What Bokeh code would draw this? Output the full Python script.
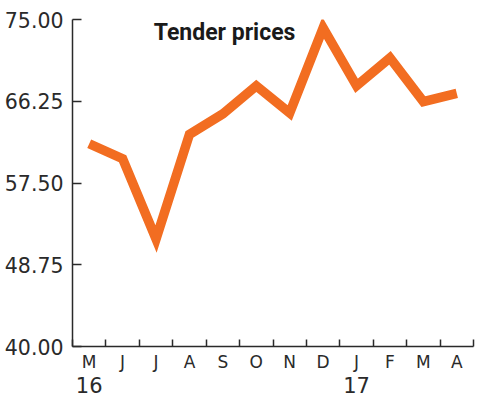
from bokeh.plotting import figure
from bokeh.models import FixedTicker, LinearAxis, Range1d, Label
from bokeh.embed import file_html
from bokeh.resources import INLINE

months = ["M", "J", "J", "A", "S", "O", "N", "D", "J", "F", "M", "A"]
years = {0: "16", 8: "17"}
prices = [61.7, 60.1, 51.5, 62.7, 64.9, 67.9, 65.0, 74.1, 67.9, 70.9, 66.2, 67.1]
y_ticks = [40.0, 48.75, 57.5, 66.25, 75.0]
title_text = "Tender prices"

ORANGE = "#F26D21"
DARK = "#2a2a2a"
NUM_FONT = "DejaVu Sans"

n = len(months)
xs = [i + 0.5 for i in range(n)]
bounds = list(range(n + 1))

p = figure(width=476, height=398, output_backend="svg", toolbar_location=None,
           x_range=Range1d(0, n), y_range=Range1d(y_ticks[0], y_ticks[-1]),
           min_border_left=72, min_border_right=3, min_border_top=19, min_border_bottom=52,
           x_axis_location=None)
p.outline_line_color = None
p.grid.grid_line_color = None
p.background_fill_color = "white"
p.border_fill_color = "white"

# y axis
ya = p.yaxis[0]
ya.ticker = FixedTicker(ticks=y_ticks)
ya.major_label_overrides = {t: f"{t:.2f}" for t in y_ticks}
ya.major_tick_in = 9
ya.major_tick_out = 0
ya.minor_tick_line_color = None
ya.major_label_standoff = 9
ya.major_label_text_font = NUM_FONT
ya.major_label_text_font_size = "20.5px"
ya.major_label_text_color = DARK
ya.axis_line_color = DARK
ya.axis_line_width = 1.5
ya.major_tick_line_color = DARK
ya.major_tick_line_width = 1.5

# x axis: month labels at centres, tick marks at month boundaries
xa = LinearAxis(ticker=FixedTicker(ticks=xs, minor_ticks=bounds))
xa.major_label_overrides = {x: m for x, m in zip(xs, months)}
xa.major_tick_line_color = None
xa.major_tick_in = 0
xa.major_tick_out = 0
xa.minor_tick_in = 7
xa.minor_tick_out = 0
xa.minor_tick_line_color = DARK
xa.minor_tick_line_width = 1.5
xa.axis_line_color = DARK
xa.axis_line_width = 1.5
xa.major_label_standoff = 5
xa.major_label_text_font = NUM_FONT
xa.major_label_text_font_size = "17px"
xa.major_label_text_color = DARK
p.add_layout(xa, "below")

# year labels
yx = [xs[i] for i in years]
yra = LinearAxis(ticker=FixedTicker(ticks=yx))
yra.major_label_overrides = {xs[i]: s for i, s in years.items()}
yra.axis_line_color = None
yra.major_tick_line_color = None
yra.minor_tick_line_color = None
yra.major_tick_in = 0
yra.major_tick_out = 0
yra.major_label_standoff = 2
yra.major_label_text_font = NUM_FONT
yra.major_label_text_font_size = "21px"
yra.major_label_text_color = DARK
p.add_layout(yra, "below")

p.line(xs, prices, line_color=ORANGE, line_width=9.5, line_join="miter")

title = Label(x=2.43, y=73.6, text=title_text, text_font="Roboto",
              text_font_style="bold", text_font_size="23px", text_color="#1a1a1a",
              text_baseline="middle", text_align="left")
p.add_layout(title)

open("out.html", "w").write(file_html(p, INLINE))
